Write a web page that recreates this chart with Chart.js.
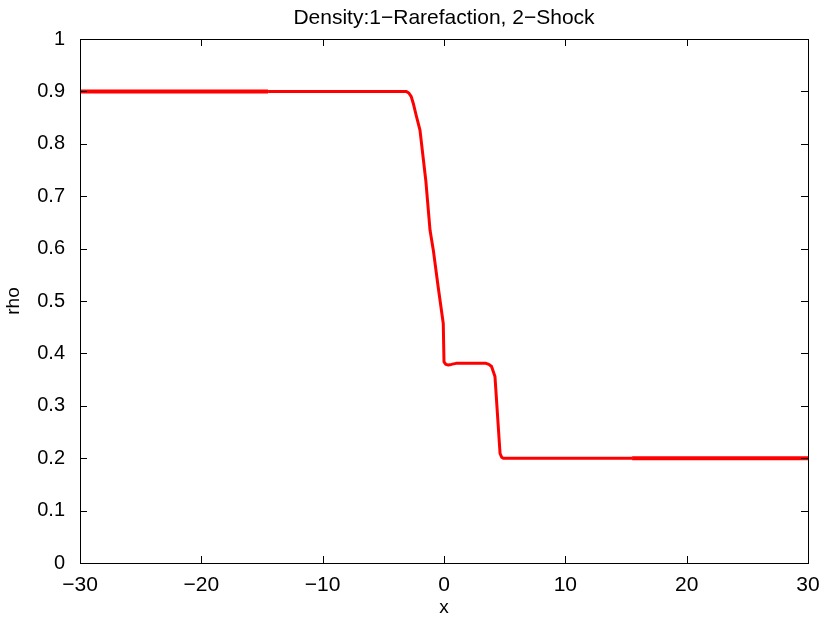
<!DOCTYPE html>
<html>
<head>
<meta charset="utf-8">
<script src="https://cdn.jsdelivr.net/npm/chart.js@4"></script>
<style>
  body { margin: 0; background: #fff; }
  canvas { display: block; }
</style>
</head>
<body>
<canvas id="density" width="825" height="619"></canvas>
<script>
const xValues = [-30, -14.5, -3.13, -2.9, -2.7, -2.53, -2.3, -1.98, -1.5, -1.15, -0.88, -0.5, -0.06, 0.0, 0.15, 0.35, 0.6, 0.99, 3.46, 3.7, 3.92, 4.2, 4.62, 4.75, 4.89, 15.5, 30];
const rhoValues = [0.9, 0.9, 0.9, 0.897, 0.89, 0.877, 0.855, 0.826, 0.73, 0.635, 0.597, 0.53, 0.457, 0.384, 0.379, 0.378, 0.379, 0.381, 0.381, 0.379, 0.375, 0.356, 0.209, 0.202, 0.2, 0.2, 0.2];
const xTicks = [-30, -20, -10, 0, 10, 20, 30];
const yTicks = [0, 0.1, 0.2, 0.3, 0.4, 0.5, 0.6, 0.7, 0.8, 0.9, 1];
const titleText = 'Density:1\u2212Rarefaction, 2\u2212Shock';

const minus = s => String(s).replace('-', '\u2212');
const fontFamily = '"Liberation Sans", Arial, sans-serif';

// MATLAB style box with inward ticks, title centred over the axes
const boxTicks = {
  id: 'boxTicks',
  afterDraw(chart) {
    const { ctx, chartArea: a, scales } = chart;
    const len = 7;
    ctx.save();
    ctx.strokeStyle = '#000';
    ctx.lineWidth = 1;
    ctx.strokeRect(a.left + 0.5, a.top + 0.5, a.right - a.left, a.bottom - a.top);
    ctx.beginPath();
    xTicks.forEach(v => {
      const px = Math.round(scales.x.getPixelForValue(v)) + 0.5;
      ctx.moveTo(px, a.bottom); ctx.lineTo(px, a.bottom - len);
      ctx.moveTo(px, a.top); ctx.lineTo(px, a.top + len);
    });
    yTicks.forEach(v => {
      const py = Math.round(scales.y.getPixelForValue(v)) + 0.5;
      ctx.moveTo(a.left, py); ctx.lineTo(a.left + len, py);
      ctx.moveTo(a.right, py); ctx.lineTo(a.right - len, py);
    });
    ctx.stroke();
    ctx.fillStyle = '#000';
    ctx.font = '21px ' + fontFamily;
    ctx.textAlign = 'center';
    ctx.textBaseline = 'middle';
    ctx.fillText(titleText, (a.left + a.right) / 2, 18);
    ctx.restore();
  }
};

const ctx = document.getElementById('density').getContext('2d');
const chart = new Chart(ctx, {
  type: 'line',
  data: {
    datasets: [
      {
        label: 'rho',
        data: xValues.map((x, i) => ({ x: x, y: rhoValues[i] })),
        borderColor: 'rgb(255,0,0)',
        borderWidth: 3,
        pointRadius: 0,
        tension: 0,
        borderJoinStyle: 'round',
        segment: {
          borderWidth: c => (c.p1DataIndex === 1 || c.p1DataIndex === xValues.length - 1) ? 4 : 3
        }
      }
    ]
  },
  options: {
    responsive: false,
    animation: false,
    layout: { padding: { left: 0, right: 17, top: 39, bottom: 0 } },
    plugins: {
      legend: { display: false },
      tooltip: { enabled: false },
      title: { display: false }
    },
    scales: {
      x: {
        type: 'linear',
        min: -30,
        max: 30,
        afterBuildTicks: axis => { axis.ticks = xTicks.map(v => ({ value: v })); },
        afterFit: axis => { axis.height = 56; },
        ticks: {
          color: '#000',
          font: { family: fontFamily, size: 21 },
          padding: 2,
          maxRotation: 0,
          callback: v => minus(v)
        },
        grid: { display: false },
        border: { display: false },
        title: { display: true, text: 'x', color: '#000', font: { family: fontFamily, size: 19 }, padding: { top: 0, bottom: 0 } }
      },
      y: {
        type: 'linear',
        min: 0,
        max: 1,
        afterBuildTicks: axis => { axis.ticks = yTicks.map(v => ({ value: v })); },
        afterFit: axis => { axis.width = 80; },
        ticks: {
          color: '#000',
          font: { family: fontFamily, size: 20 },
          padding: 7,
          callback: v => minus(Math.round(v * 10) / 10)
        },
        grid: { display: false },
        border: { display: false },
        title: { display: true, text: 'rho', color: '#000', font: { family: fontFamily, size: 19 }, padding: { top: 2, bottom: 0 } }
      }
    }
  },
  plugins: [boxTicks]
});
</script>
</body>
</html>
